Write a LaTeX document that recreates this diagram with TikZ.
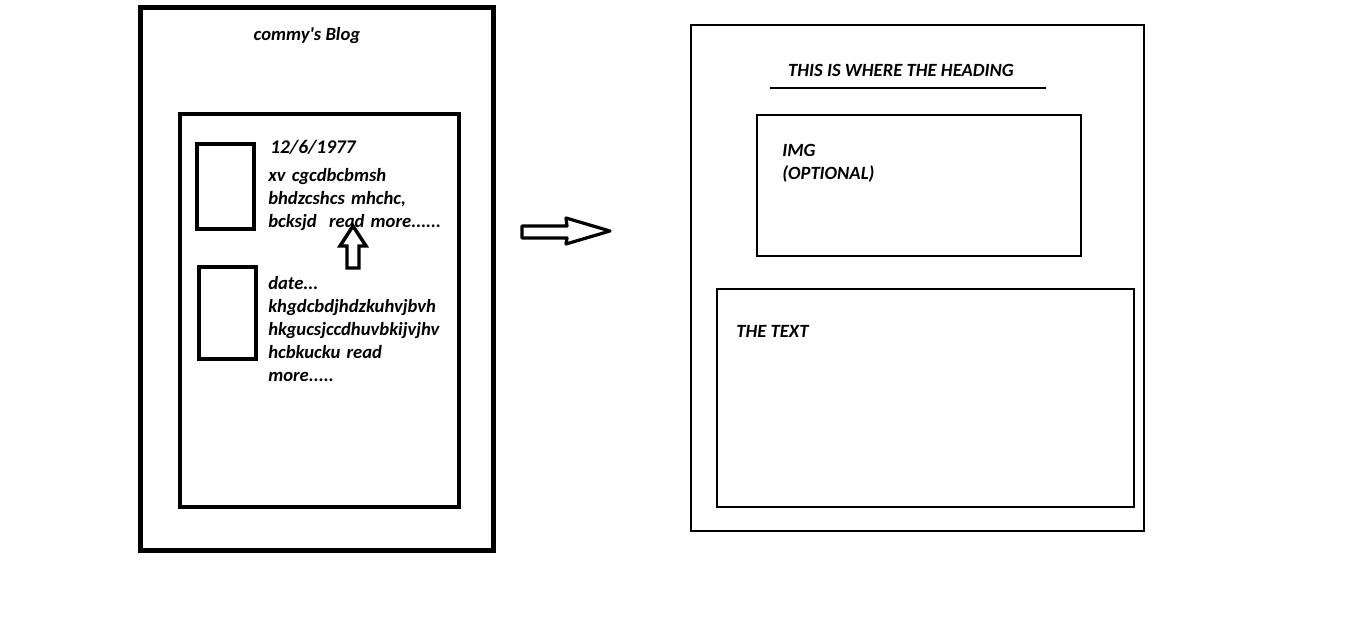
\documentclass[tikz,border=0pt]{standalone}
\usepackage{fontspec}
\setmainfont{Carlito}
\usepackage{tikz}

\tikzset{
  sketch/.style={font=\fontsize{14}{17}\selectfont\bfseries\itshape, inner sep=0pt},
  para/.style={sketch, anchor=north west, align=left, text width=220, font=\fontsize{14}{17.2}\selectfont\bfseries\itshape},
}

\begin{document}
\begin{tikzpicture}[x=0.75pt, y=-0.75pt]
    \useasboundingbox (0,0) rectangle (1360,623);
    % blog list page
    \draw[line width=3.75pt] (140,8) rectangle (493,550);
    \node[sketch] (title) at (307,36) {commy\textquotesingle s Blog};
    \draw[line width=3pt] (180,114) rectangle (459,507);
    \draw[line width=3pt] (197,144) rectangle (254,229);
    \draw[line width=3pt] (199,267) rectangle (256,359);
    \node[sketch, anchor=west, font=\fontsize{14.5}{17}\selectfont\bfseries\itshape] (date1) at (270,147) {12/6/1977};
    \node[para] (post1) at (268,168) {xv cgcdbcbmsh\\bhdzcshcs mhchc,\\bcksjd\ \ read more......};
    \node[para] (post2) at (268,276) {date...\\khgdcbdjhdzkuhvjbvh\\hkgucsjccdhuvbkijvjhv\\hcbkucku read\\more.....};
    \draw[line width=2.6pt, line join=miter] (353,226) -- (366,246) -- (359,246) -- (359,268)
        -- (347,268) -- (347,246) -- (340,246) -- cycle;
    % big arrow
    \draw[line width=2.4pt, line join=round] (522,226) -- (567,226) -- (566,218) -- (610,231)
        -- (566,244) -- (567,238) -- (522,238) -- cycle;
    % post page
    \draw[line width=2pt] (691,25) rectangle (1144,531);
    \node[sketch] (heading) at (901,70) {THIS IS WHERE THE HEADING};
    \draw[line width=0.8pt] (770,88) -- (1046,88);
    \draw[line width=2.2pt] (757,115) rectangle (1081,256);
    \node[sketch, anchor=north west, align=left, font=\fontsize{14}{17.2}\selectfont\bfseries\itshape] (img) at (782,144) {IMG\\(OPTIONAL)};
    \draw[line width=2pt] (717,289) rectangle (1134,507);
    \node[sketch, anchor=west] (text) at (736,331) {THE TEXT};
\end{tikzpicture}
\end{document}
